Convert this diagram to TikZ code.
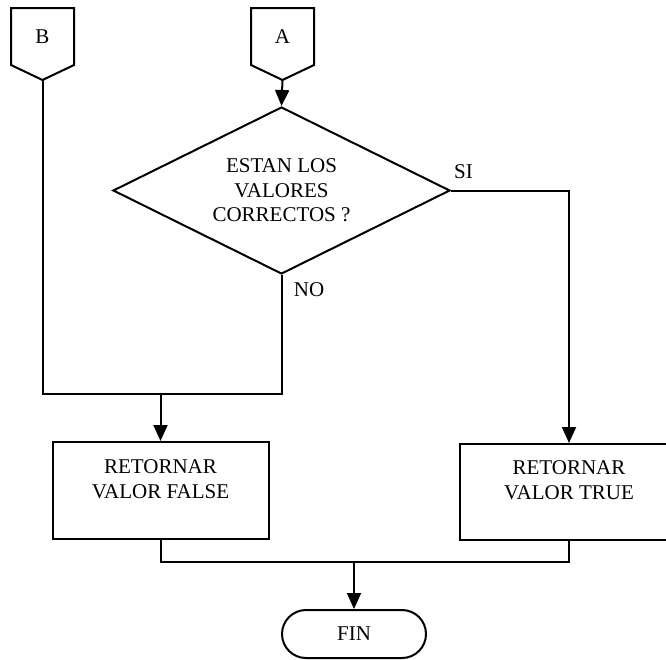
\documentclass[tikz,border=0pt]{standalone}
\usepackage{fontspec}
\setmainfont{Liberation Serif}
\usetikzlibrary{shapes.geometric,shapes.misc,arrows.meta,calc}
\begin{document}
\begin{tikzpicture}[x=1pt,y=-1pt,
  line width=2pt,
  every node/.style={font=\fontsize{21}{24.5}\selectfont},
  conn/.style={inner sep=0pt, minimum width=61pt, minimum height=55pt},
  decision/.style={diamond, draw, aspect=2, inner sep=0pt, align=center,
    minimum width=337pt, minimum height=167pt},
  procbox/.style={rectangle, draw, inner sep=0pt},
  boxtext/.style={align=center, inner sep=0pt},
  terminal/.style={rounded rectangle, draw, inner sep=0pt,
    minimum width=144pt, minimum height=48pt},
  tag/.style={inner sep=0pt},
  flow/.style={-{Triangle[length=16pt,width=14pt]}}
]
\useasboundingbox (0,0) rectangle (666,659);

% off-page connectors
\node[conn] (B) at (42.5,36.5) {B};
\coordinate (Btip) at ($(B.south)+(0,15)$);
\draw (B.north west) -- (B.south west) -- (Btip) -- (B.south east) -- (B.north east) -- cycle;

\node[conn] (A) at (282.5,36.5) {A};
\coordinate (Atip) at ($(A.south)+(0,15)$);
\draw (A.north west) -- (A.south west) -- (Atip) -- (A.south east) -- (A.north east) -- cycle;

% decision
\node[decision] (D) at (281.5,190.5) {ESTAN LOS\\VALORES\\CORRECTOS ?};

% process boxes
\node[procbox, minimum width=216pt, minimum height=97pt] (F) at (160.5,490.5) {};
\node[boxtext] (Ft) at (160.5,479) {RETORNAR\\VALOR FALSE};
\node[procbox, minimum width=218pt, minimum height=96pt] (T) at (569,492) {};
\node[boxtext] (Tt) at (569,480) {RETORNAR\\VALOR TRUE};

% end
\node[terminal] (E) at (354,634) {FIN};

% branch labels
\node[tag] (si) at (463.5,171.5) {SI};
\node[tag] (no) at (309,290) {NO};

% connectors
\draw[flow] (Atip) -- (D.north);
\draw[flow] (D.east) -| (T.north);

\coordinate (J) at (D.south |- 0,394);
\draw (Btip) |- (J) -- (D.south);
\draw[flow] (F.north |- J) -- (F.north);

\coordinate (K) at (E.north |- 0,562);
\draw (F.south) |- (K) -| (T.south);
\draw[flow] (K) -- (E.north);
\end{tikzpicture}
\end{document}
